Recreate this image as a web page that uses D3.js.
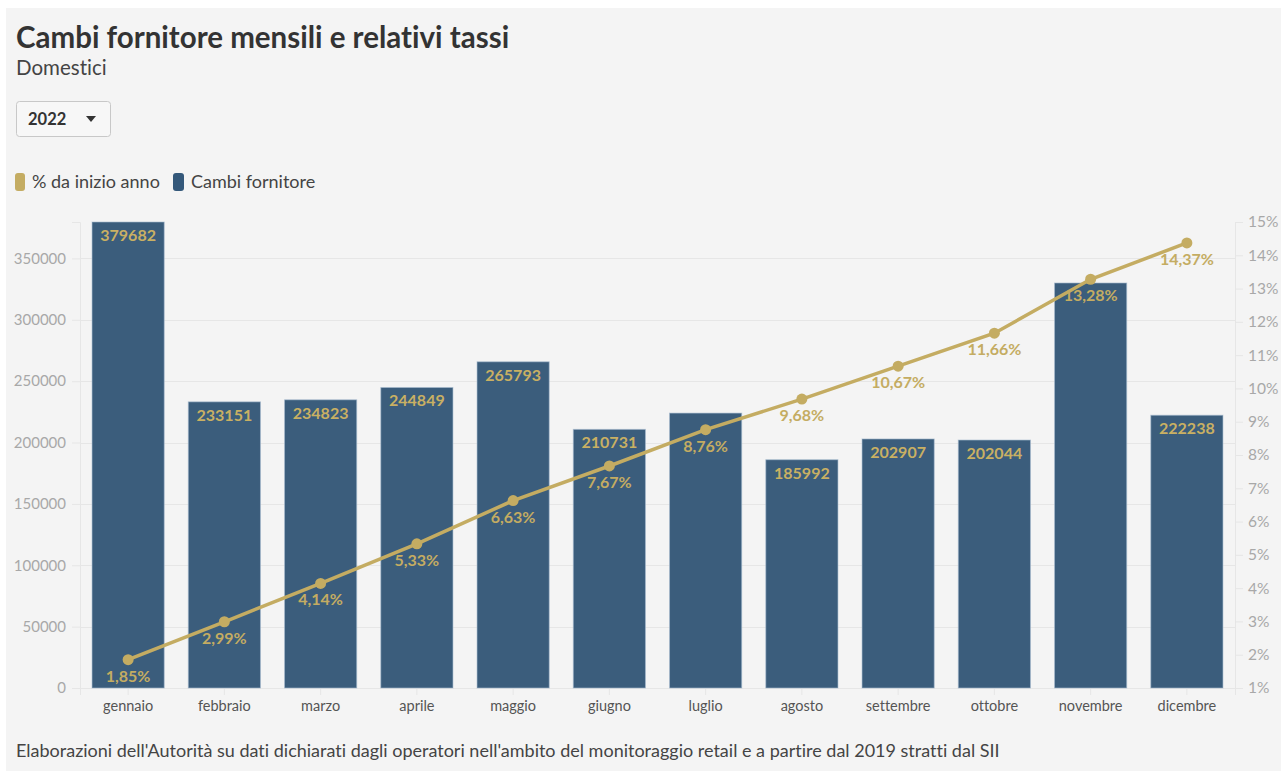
<!DOCTYPE html>
<html><head><meta charset="utf-8">
<script src="https://cdn.jsdelivr.net/npm/d3@7"></script>
<style>
html,body{margin:0;padding:0;background:#fff;}
svg{display:block;font-variant-ligatures:none;}
</style></head>
<body>
<svg id="c" width="1281" height="771"></svg>
<script>
const months = ["gennaio","febbraio","marzo","aprile","maggio","giugno","luglio","agosto","settembre","ottobre","novembre","dicembre"];
const switches = [379682,233151,234823,244849,265793,210731,224000,185992,202907,202044,330000,222238];
const switchLabels = ["379682","233151","234823","244849","265793","210731","","185992","202907","202044","","222238"];
const pct = [1.85,2.99,4.14,5.33,6.63,7.67,8.76,9.68,10.67,11.66,13.28,14.37];
const pctLabels = ["1,85%","2,99%","4,14%","5,33%","6,63%","7,67%","8,76%","9,68%","10,67%","11,66%","13,28%","14,37%"];
const leftTicks = [0,50000,100000,150000,200000,250000,300000,350000];
const rightTicks = [1,2,3,4,5,6,7,8,9,10,11,12,13,14,15];

const FONT = "Lato, 'Open Sans', sans-serif";
const svg = d3.select("#c");
svg.append("rect").attr("x",6).attr("y",8).attr("width",1275).attr("height",763).attr("fill","#f4f4f4");

const x0 = 80, x1 = 1235, yTop = 222, yBot = 688;
const x = d3.scaleBand().domain(months).range([x0,x1]).paddingInner(0.25).paddingOuter(0.125);
const yL = d3.scaleLinear().domain([0, d3.max(switches)]).range([yBot,yTop]);
const yR = d3.scaleLinear().domain([1,15]).range([yBot,yTop]);

// title
svg.append("text").attr("x",16).attr("y",47.5).text("Cambi fornitore mensili e relativi tassi")
  .attr("font-family",FONT).attr("font-weight",700).attr("font-size",29.5).attr("fill","#333");
svg.append("text").attr("x",16).attr("y",75).text("Domestici")
  .attr("font-family",FONT).attr("font-size",20.5).attr("fill","#444");

// dropdown
svg.append("rect").attr("x",16.5).attr("y",101.5).attr("width",94).attr("height",35).attr("rx",3)
  .attr("fill","#f7f7f7").attr("stroke","#c8c8c8");
svg.append("text").attr("x",28).attr("y",124.5).text("2022")
  .attr("font-family",FONT).attr("font-weight",700).attr("font-size",16.5).attr("fill","#333");
svg.append("path").attr("d","M86,116 L96,116 L91,122 Z").attr("fill","#333");

// legend
const lg = svg.append("g").attr("font-family",FONT).attr("font-size",18).attr("fill","#444");
lg.append("rect").attr("x",15).attr("y",173).attr("width",10).attr("height",18).attr("rx",3).attr("fill","#c4ac62");
lg.append("text").attr("x",32).attr("y",188).text("% da inizio anno");
lg.append("rect").attr("x",173).attr("y",173).attr("width",11).attr("height",18).attr("rx",3).attr("fill","#34587a");
lg.append("text").attr("x",191).attr("y",188).text("Cambi fornitore");

// gridlines
svg.append("g").selectAll("line").data(leftTicks).join("line")
  .attr("x1",x0).attr("x2",x1).attr("y1",d=>Math.round(yL(d))+0.5).attr("y2",d=>Math.round(yL(d))+0.5)
  .attr("stroke","#e6e6e6");

// left axis
const gL = svg.append("g").attr("transform",`translate(${x0},0)`)
  .call(d3.axisLeft(yL).tickValues(leftTicks).tickFormat(d=>String(d)).tickSize(8).tickPadding(6));
gL.select(".domain").attr("stroke","#e6e6e6");
gL.selectAll(".tick line").attr("stroke","#e6e6e6");
gL.selectAll("text").attr("font-family",FONT).attr("font-size",15).attr("fill","#a8a8a8");

// right axis
const gR = svg.append("g").attr("transform",`translate(${x1},0)`)
  .call(d3.axisRight(yR).tickValues(rightTicks).tickFormat(d=>d+"%").tickSize(8).tickPadding(5));
gR.select(".domain").attr("stroke","#e6e6e6");
gR.selectAll(".tick line").attr("stroke","#e6e6e6");
gR.selectAll("text").attr("font-family",FONT).attr("font-size",15.5).attr("fill","#a8a8a8");

// bottom axis
const gB = svg.append("g").attr("transform",`translate(0,${yBot})`)
  .call(d3.axisBottom(x).tickSize(7).tickPadding(6));
gB.select(".domain").attr("stroke","#e6e6e6");
gB.selectAll(".tick line").attr("stroke","#e6e6e6");
gB.selectAll("text").attr("font-family",FONT).attr("font-size",14.5).attr("fill","#555");

// bars
svg.append("g").selectAll("rect").data(switches).join("rect")
  .attr("x",(d,i)=>x(months[i])).attr("width",x.bandwidth())
  .attr("y",d=>yL(d)).attr("height",d=>yBot-yL(d))
  .attr("fill","#3b5d7c").attr("stroke","#a9bdd0").attr("stroke-width",1).attr("stroke-opacity",0.6);

svg.append("g").selectAll("text").data(switches).join("text")
  .attr("x",(d,i)=>x(months[i])+x.bandwidth()/2).attr("y",d=>yL(d)+19)
  .attr("text-anchor","middle").text((d,i)=>switchLabels[i])
  .attr("font-family",FONT).attr("font-weight",700).attr("font-size",16).attr("fill","#c9b063");

// line
const line = d3.line().x((d,i)=>x(months[i])+x.bandwidth()/2).y(d=>yR(d));
svg.append("path").datum(pct).attr("d",line).attr("fill","none").attr("stroke","#c4ac62").attr("stroke-width",3.5);
svg.append("g").selectAll("circle").data(pct).join("circle")
  .attr("cx",(d,i)=>x(months[i])+x.bandwidth()/2).attr("cy",d=>yR(d)).attr("r",5.5).attr("fill","#c4ac62");
svg.append("g").selectAll("text").data(pct).join("text")
  .attr("x",(d,i)=>x(months[i])+x.bandwidth()/2).attr("y",d=>yR(d)+22)
  .attr("text-anchor","middle").text((d,i)=>pctLabels[i])
  .attr("font-family",FONT).attr("font-weight",700).attr("font-size",16).attr("fill","#c4ac62");

// footer
svg.append("text").attr("x",16).attr("y",757)
  .text("Elaborazioni dell'Autorità su dati dichiarati dagli operatori nell'ambito del monitoraggio retail e a partire dal 2019 stratti dal SII")
  .attr("font-family",FONT).attr("font-size",18).attr("fill","#444");
</script>
</body></html>
